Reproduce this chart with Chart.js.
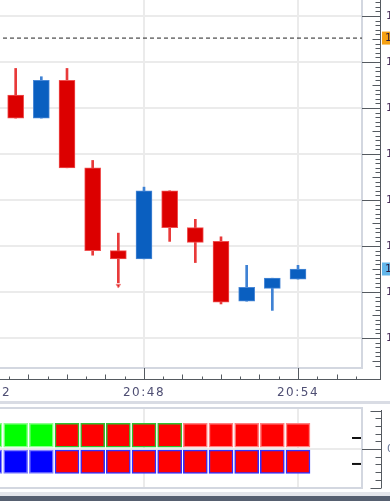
<!DOCTYPE html>
<html><head><meta charset="utf-8">
<script src="https://cdn.jsdelivr.net/npm/chart.js@4.4.1/dist/chart.umd.min.js"></script>
<style>
html,body{margin:0;padding:0;background:#fff;overflow:hidden;width:390px;height:501px;position:relative}
canvas{position:absolute;left:-60px}
#main{top:0}
#panel{top:404px}
.band{position:absolute;left:0;width:390px}
</style></head><body>
<canvas id="main" width="500" height="400" style="width:500px;height:400px"></canvas>
<div class="band" style="top:401px;height:3px;background:#d9dce4"></div>
<canvas id="panel" width="500" height="97" style="width:500px;height:97px"></canvas>
<div class="band" style="top:492px;height:4px;background:#e4e6eb"></div>
<div class="band" style="top:496px;height:5px;background:#566070"></div>
<script>
// ---------- data ----------
const minutes = [43, 44, 45, 46, 47, 48, 49, 50, 51, 52, 53, 54];
const opens   = [1.32314, 1.32289, 1.32330, 1.32235, 1.32145, 1.32136, 1.32210, 1.32170, 1.32155, 1.32090, 1.32104, 1.32114];
const highs   = [1.32343, 1.32334, 1.32343, 1.32243, 1.32164, 1.32214, 1.32210, 1.32179, 1.32160, 1.32129, 1.32115, 1.32129];
const lows    = [1.32289, 1.32289, 1.32235, 1.32140, 1.32110, 1.32136, 1.32155, 1.32132, 1.32087, 1.32090, 1.32080, 1.32114];
const closes  = [1.32289, 1.32330, 1.32235, 1.32145, 1.32136, 1.32210, 1.32170, 1.32154, 1.32089, 1.32105, 1.32115, 1.32125];
const askLevel = 1.32376;
const fractalMinute = 47, fractalPrice = 1.32107;
const priceTicks = [1.3205, 1.3210, 1.3215, 1.3220, 1.3225, 1.3230, 1.3235, 1.3240];
const timeTickValues = [42, 48, 54];
const timeLabels = ['20:42', '20:48', '20:54'];
const priceMin = 1.3201739, priceMax = 1.3241739;
const minuteMin = 40.052, minuteMax = 56.4935;

// indicator panel
const panelMinutes = [42, 43, 44, 45, 46, 47, 48, 49, 50, 51, 52, 53, 54];
const row1State = [1, 1, 1, -1, -1, -1, -1, -1, -1, -1, -1, -1, -1];
const row1Edge  = [1, 1, 1, 1, 1, 1, 1, 1, -1, -1, -1, -1, -1];
const row2State = [1, 1, 1, -1, -1, -1, -1, -1, -1, -1, -1, -1, -1];
const row1Range = [0.05, 0.67];
const row2Range = [0, -0.63];
const panelMarkerMinute = 56.28;
const panelMarkers = [0.288, -0.386];
const panelTicks = [0];

// ---------- styling ----------
const RED = '#dc0000', RED_EDGE = '#ef5050', RED_WICK = '#e83a3a';
const BLUE = '#0a5fc0', BLUE_EDGE = '#4a88d6', BLUE_WICK = '#3f82d4';
const FRAME = '#d3d7e0', GRID = '#ebebeb', AXIS = '#555a60';
Chart.defaults.font.family = 'DejaVu Sans';
Chart.defaults.font.size = 11;

const up = minutes.map((m, i) => closes[i] >= opens[i]);
const noPad = s => { s.paddingTop = 0; s.paddingBottom = 0; s.paddingLeft = 0; s.paddingRight = 0; };
const spacing = { id: 'spacing', beforeDraw(chart) { chart.ctx.letterSpacing = '1.5px'; } };

const mainDeco = {
  id: 'mainDeco',
  afterDraw(chart) {
    const {ctx, chartArea: a, scales: {x, y}} = chart;
    const ax = a.right + 18.5, ay = a.bottom + 11.5;
    ctx.save();
    ctx.strokeStyle = AXIS; ctx.lineWidth = 1;
    ctx.beginPath();
    ctx.moveTo(ax, 0); ctx.lineTo(ax, ay);
    ctx.moveTo(0, ay); ctx.lineTo(ax + 0.5, ay);
    const ys = 0.00005;
    for (let i = Math.ceil(y.min / ys - 1e-6); i <= Math.floor(y.max / ys + 1e-6); i++) {
      const py = Math.round(y.getPixelForValue(i * ys)) + 0.5;
      const len = i % 10 === 0 ? (ax - a.right) : (i % 5 === 0 ? 8 : 5);
      ctx.moveTo(ax - len, py); ctx.lineTo(ax, py);
    }
    const xs = 0.75;
    for (let i = Math.ceil(x.min / xs); i <= Math.floor(x.max / xs); i++) {
      const px = Math.round(x.getPixelForValue(i * xs)) + 0.5;
      const len = i % 8 === 0 ? (ay - a.bottom) : (i % 2 === 0 ? 5 : 3);
      ctx.moveTo(px, ay - len); ctx.lineTo(px, ay);
    }
    ctx.stroke();
    const tag = (v, fill) => {
      const py = y.getPixelForValue(v);
      ctx.fillStyle = fill;
      ctx.fillRect(a.right + 20, py - 6.5, 70, 13);
      ctx.fillStyle = '#2a1a3a';
      ctx.font = '11px DejaVu Sans'; ctx.textBaseline = 'middle'; ctx.textAlign = 'left';
      ctx.fillText(v.toFixed(5), a.right + 23, py + 0.5);
    };
    tag(askLevel, '#f5a013');
    tag(closes[closes.length - 1], '#62b6ea');
    ctx.restore();
  }
};

new Chart(document.getElementById('main'), {
  type: 'bar',
  data: {
    datasets: [
      { type: 'scatter', order: 0, data: [{x: fractalMinute, y: fractalPrice}],
        pointStyle: 'triangle', rotation: 180, radius: 2.5, backgroundColor: '#e02020', borderColor: '#f08080', borderWidth: 1 },
      { type: 'line', order: 1, data: [{x: minuteMin, y: askLevel}, {x: minuteMax, y: askLevel}],
        borderColor: '#222', borderWidth: 1, borderDash: [4, 3], pointRadius: 0 },
      { order: 2, grouped: false, barThickness: 16,
        data: minutes.map((m, i) => ({x: m, y: [opens[i], closes[i]]})),
        backgroundColor: up.map(u => u ? BLUE : RED),
        borderColor: up.map(u => u ? BLUE_EDGE : RED_EDGE),
        borderWidth: 1, borderSkipped: false },
      { order: 3, grouped: false, barThickness: 2,
        data: minutes.map((m, i) => ({x: m, y: [lows[i], highs[i]]})),
        backgroundColor: up.map(u => u ? BLUE_WICK : RED_WICK),
        borderWidth: 0 }
    ]
  },
  options: {
    responsive: false, animation: false,
    layout: { autoPadding: false, padding: { left: 0, right: 0, top: 0, bottom: 0 } },
    plugins: { legend: { display: false }, tooltip: { enabled: false } },
    scales: {
      x: { type: 'linear', min: minuteMin, max: minuteMax, offset: false,
        afterBuildTicks: s => { s.ticks = timeTickValues.map(v => ({value: v})); },
        afterFit: s => { s.height = 32; noPad(s); },
        grid: { color: GRID, lineWidth: 2, drawTicks: false, offset: false },
        border: { display: true, color: FRAME, width: 2 },
        ticks: { padding: 18, color: '#4f4f74', autoSkip: false, maxRotation: 0, font: { size: 12 },
          callback: (v) => timeLabels[timeTickValues.indexOf(v)] } },
      y: { position: 'right', min: priceMin, max: priceMax,
        afterBuildTicks: s => { s.ticks = priceTicks.map(v => ({value: v})); },
        afterFit: s => { s.width = 78; noPad(s); },
        grid: { color: GRID, lineWidth: 2, drawTicks: false },
        border: { display: true, color: FRAME, width: 2 },
        ticks: { padding: 24, color: '#4a2f5a', callback: v => v.toFixed(5) } }
    }
  },
  plugins: [spacing, mainDeco]
});

// ---------- indicator panel ----------
const panelDeco = {
  id: 'panelDeco',
  afterDraw(chart) {
    const {ctx, chartArea: a, scales: {y}} = chart;
    const ax = a.right + 19.5;
    ctx.save();
    ctx.strokeStyle = FRAME; ctx.lineWidth = 2;
    ctx.beginPath(); ctx.moveTo(0, a.top - 1); ctx.lineTo(a.right + 1, a.top - 1); ctx.stroke();
    ctx.strokeStyle = AXIS; ctx.lineWidth = 1;
    ctx.beginPath();
    ctx.moveTo(ax, a.top + 1); ctx.lineTo(ax, a.bottom);
    for (let i = -5; i <= 5; i++) {
      const py = Math.round(y.getPixelForValue(i * 0.2)) + 0.5;
      const len = i === 0 ? (ax - a.right) : (Math.abs(i) === 5 ? 11 : 6);
      ctx.moveTo(ax - len, py); ctx.lineTo(ax, py);
    }
    ctx.stroke();
    ctx.restore();
  }
};

new Chart(document.getElementById('panel'), {
  type: 'bar',
  data: {
    datasets: [
      { type: 'scatter', order: 0,
        data: panelMarkers.map(v => ({x: panelMarkerMinute, y: v})),
        pointStyle: 'line', radius: 4.5, borderColor: '#111', borderWidth: 2 },
      { order: 1, grouped: false, barThickness: 24,
        data: panelMinutes.map(m => ({x: m, y: row1Range})),
        backgroundColor: row1State.map(s => s > 0 ? '#00ff00' : '#ff0000'),
        borderColor: row1State.map((s, i) => s > 0 ? '#8cff8c' : (row1Edge[i] > 0 ? '#30c030' : '#ff8080')),
        borderWidth: 1.5, borderSkipped: false },
      { order: 1, grouped: false, barThickness: 24,
        data: panelMinutes.map(m => ({x: m, y: row2Range})),
        backgroundColor: row2State.map(s => s > 0 ? '#0000ff' : '#ff0000'),
        borderColor: row2State.map(s => s > 0 ? '#8080ff' : '#3030ff'),
        borderWidth: 1.5, borderSkipped: false }
    ]
  },
  options: {
    responsive: false, animation: false,
    layout: { autoPadding: false, padding: { left: 0, right: 0, top: 5, bottom: 13 } },
    plugins: { legend: { display: false }, tooltip: { enabled: false } },
    scales: {
      x: { type: 'linear', min: minuteMin, max: minuteMax, offset: false,
        afterBuildTicks: s => { s.ticks = timeTickValues.map(v => ({value: v})); },
        afterFit: s => { s.height = 0; noPad(s); },
        grid: { color: GRID, lineWidth: 2, drawTicks: false, offset: false },
        border: { display: true, color: FRAME, width: 2 },
        ticks: { display: false } },
      y: { position: 'right', min: -1.01, max: 1.04,
        afterBuildTicks: s => { s.ticks = panelTicks.map(v => ({value: v})); },
        afterFit: s => { s.width = 78; noPad(s); },
        grid: { color: GRID, lineWidth: 2, drawTicks: false },
        border: { display: true, color: FRAME, width: 2 },
        ticks: { padding: 25, color: '#6a7898', callback: v => v.toFixed(4) } }
    }
  },
  plugins: [panelDeco]
});
</script>
</body></html>
